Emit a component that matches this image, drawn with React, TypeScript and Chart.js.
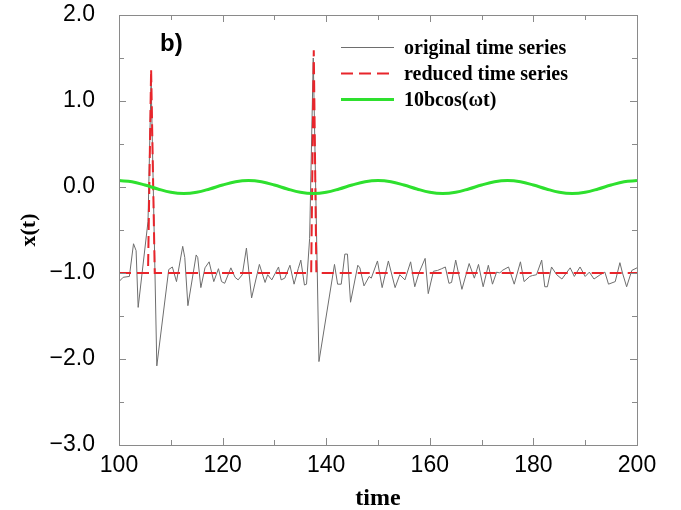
import React, { useEffect, useRef } from "react";
import { Chart, registerables } from "chart.js";

Chart.register(...registerables);

// ---- data ----
const origTime = [
  100.0, 100.8, 102.0, 102.8, 103.3, 103.7, 105.6, 106.2, 107.3, 109.6, 110.3, 111.1, 112.3, 112.7, 113.3,
  114.9, 115.2, 115.8, 116.6, 117.4, 118.3, 119.2, 119.8, 120.4, 121.6, 122.4, 123.0, 123.8, 124.6, 125.6,
  127.1, 128.2, 128.7, 129.5, 130.8, 131.3, 132.0, 133.0, 133.8, 134.6, 135.1, 135.8, 136.2, 136.8, 137.5,
  138.6, 141.6, 142.2, 142.9, 143.6, 144.1, 144.7, 146.1, 146.5, 147.3, 148.3, 148.7, 149.9, 150.8, 152.0,
  153.3, 154.2, 155.2, 156.3, 157.1, 157.9, 159.1, 159.7, 160.7, 161.5, 162.3, 163.0, 163.7, 164.2, 165.0,
  166.2, 167.6, 168.6, 169.4, 170.3, 171.3, 172.1, 172.9, 173.5, 174.0, 175.2, 176.3, 177.5, 178.2, 179.3,
  179.8, 180.6, 181.6, 182.2, 182.7, 183.5, 184.5, 185.5, 187.1, 187.9, 189.0, 190.0, 190.8, 191.7, 192.9,
  193.8, 194.5, 195.8, 196.7, 197.2, 198.0, 199.0, 200.0,
];
const origValue = [
  -1.1, -1.05, -1.04, -0.66, -0.74, -1.4, -0.4, 1.25, -2.08, -0.96, -0.93, -1.1, -0.69, -0.82, -1.38,
  -0.79, -0.82, -1.17, -0.94, -0.87, -1.1, -0.95, -1.1, -1.12, -0.94, -1.05, -1.08, -1.02, -0.71, -1.29,
  -0.9, -1.11, -1.02, -1.08, -0.93, -1.08, -1.06, -0.91, -1.13, -0.95, -0.85, -1.14, -1.13, -0.6, 1.5,
  -2.03, -0.9, -1.13, -1.13, -0.78, -0.78, -1.34, -0.91, -0.94, -1.15, -1.04, -1.06, -0.86, -1.17, -0.86,
  -1.17, -1.02, -1.08, -0.87, -1.16, -1.0, -0.83, -1.24, -0.98, -0.97, -0.95, -0.93, -1.12, -1.11, -0.85,
  -1.19, -0.89, -1.06, -0.9, -1.16, -0.91, -1.13, -0.99, -1.0, -0.97, -0.93, -1.13, -0.87, -1.1, -1.04,
  -1.03, -1.02, -0.85, -1.16, -1.16, -0.93, -1.02, -1.07, -0.94, -1.04, -0.93, -1.04, -0.99, -1.07, -1.02,
  -0.99, -1.13, -1.1, -0.88, -1.0, -1.16, -0.97, -0.94,
];

const reducedTime = [100, 105.6, 106.2, 106.9, 137.1, 137.6, 138.1, 200];
const reducedValue = [-1, -1, 1.37, -1, -1, 1.59, -1, -1];

const cosTime = [
  100, 102.5, 105, 107.5, 110, 112.5, 115, 117.5, 120, 122.5, 125, 127.5, 130, 132.5, 135, 137.5, 140,
  142.5, 145, 147.5, 150, 152.5, 155, 157.5, 160, 162.5, 165, 167.5, 170, 172.5, 175, 177.5, 180, 182.5,
  185, 187.5, 190, 192.5, 195, 197.5, 200,
];
const cosValue = [
  0.075, 0.061, 0.023, -0.023, -0.061, -0.075, -0.061, -0.023, 0.023, 0.061,
  0.075, 0.061, 0.023, -0.023, -0.061, -0.075, -0.061, -0.023, 0.023, 0.061,
  0.075, 0.061, 0.023, -0.023, -0.061, -0.075, -0.061, -0.023, 0.023, 0.061,
  0.075, 0.061, 0.023, -0.023, -0.061, -0.075, -0.061, -0.023, 0.023, 0.061,
  0.075,
];

const seriesLabels = ["original time series", "reduced time series", "10bcos(\u03c9t)"];
const xMajorTicks = [100, 120, 140, 160, 180, 200];
const xMinorTicks = [110, 130, 150, 170, 190];
const yMajorTicks = [2, 1, 0, -1, -2, -3];
const yMinorTicks = [1.5, 0.5, -0.5, -1.5, -2.5];
const panelLabel = "b)";
const xTitle = "time";
const yTitle = "x(t)";

const toPoints = (t: number[], v: number[]) => t.map((x, i) => ({ x, y: v[i] }));

const frameColor = "#8a8a8a";

const framePlugin = {
  id: "framePlugin",
  afterDatasetsDraw(chart: any) {
    const { ctx, chartArea } = chart;
    const { left, right, top, bottom } = chartArea;
    const xs = chart.scales.x;
    const ys = chart.scales.y;
    ctx.save();
    ctx.strokeStyle = frameColor;
    ctx.lineWidth = 1;
    ctx.strokeRect(Math.round(left) + 0.5, Math.round(top) + 0.5, Math.round(right - left), Math.round(bottom - top));
    const tick = (vals: number[], len: number, horiz: boolean) => {
      vals.forEach((v) => {
        ctx.beginPath();
        if (horiz) {
          const px = Math.round(xs.getPixelForValue(v)) + 0.5;
          ctx.moveTo(px, bottom);
          ctx.lineTo(px, bottom - len);
          ctx.moveTo(px, top);
          ctx.lineTo(px, top + len);
        } else {
          const py = Math.round(ys.getPixelForValue(v)) + 0.5;
          ctx.moveTo(left, py);
          ctx.lineTo(left + len, py);
          ctx.moveTo(right, py);
          ctx.lineTo(right - len, py);
        }
        ctx.stroke();
      });
    };
    tick(xMajorTicks, 7, true);
    tick(xMinorTicks, 5, true);
    tick(yMajorTicks, 7, false);
    tick(yMinorTicks, 5, false);

    // legend
    const rowY = [47.5, 73.5, 99.5];
    chart.data.datasets.forEach((ds: any, i: number) => {
      const y = rowY[i];
      ctx.beginPath();
      ctx.strokeStyle = ds.borderColor;
      ctx.lineWidth = ds.borderWidth;
      ctx.setLineDash(ds.borderDash || []);
      ctx.moveTo(341, y);
      ctx.lineTo(394, y);
      ctx.stroke();
      ctx.setLineDash([]);
      ctx.fillStyle = "#000";
      ctx.font = "bold 20px 'Liberation Serif'";
      ctx.textBaseline = "middle";
      ctx.textAlign = "left";
      ctx.fillText(ds.label, 404, y + 1);
    });

    ctx.fillStyle = "#000";
    ctx.font = "bold 24px 'Liberation Sans'";
    ctx.textBaseline = "alphabetic";
    ctx.fillText(panelLabel, 160, 51);
    ctx.restore();
  },
};

export default function App() {
  const ref = useRef<HTMLCanvasElement>(null);
  useEffect(() => {
    if (!ref.current) return;
    const chart = new Chart(ref.current, {
      type: "line",
      data: {
        datasets: [
          {
            label: seriesLabels[0],
            data: toPoints(origTime, origValue),
            borderColor: "#6e6e6e",
            borderWidth: 1,
            pointRadius: 0,
            tension: 0,
            order: 3,
          },
          {
            label: seriesLabels[1],
            data: toPoints(reducedTime, reducedValue),
            borderColor: "#e8252b",
            borderWidth: 2,
            borderDash: [12, 6],
            pointRadius: 0,
            tension: 0,
            order: 2,
          },
          {
            label: seriesLabels[2],
            data: toPoints(cosTime, cosValue),
            borderColor: "#2ee02e",
            borderWidth: 3,
            pointRadius: 0,
            tension: 0.4,
            order: 1,
          },
        ],
      },
      options: {
        responsive: false,
        animation: false,
        layout: { padding: { left: 0, top: 15, right: 44, bottom: 0 } },
        plugins: { legend: { display: false }, tooltip: { enabled: false } },
        scales: {
          x: {
            type: "linear",
            min: 100,
            max: 200,
            afterBuildTicks: (s: any) => {
              s.ticks = xMajorTicks.map((v) => ({ value: v }));
            },
            afterFit: (s: any) => {
              s.height = 65;
              s.paddingLeft = 0;
              s.paddingRight = 0;
            },
            grid: { display: false, drawTicks: false },
            border: { display: false },
            ticks: {
              color: "#000",
              padding: 7,
              maxRotation: 0,
              font: { family: "'Liberation Sans'", size: 23 },
              callback: (v: any) => String(v),
            },
            title: {
              display: true,
              text: xTitle,
              color: "#000",
              font: { family: "'Liberation Serif'", size: 24, weight: "bold" },
              padding: { top: 0, bottom: -3 },
            },
          },
          y: {
            type: "linear",
            min: -3,
            max: 2,
            afterBuildTicks: (s: any) => {
              s.ticks = yMajorTicks.map((v) => ({ value: v }));
            },
            afterFit: (s: any) => {
              s.width = 119;
              s.paddingTop = 0;
              s.paddingBottom = 0;
            },
            grid: { display: false, drawTicks: false },
            border: { display: false },
            ticks: {
              color: "#000",
              padding: 24,
              font: { family: "'Liberation Sans'", size: 23 },
              callback: (v: any) => Number(v).toFixed(1).replace("-", "\u2212"),
            },
            title: {
              display: true,
              text: yTitle,
              color: "#000",
              font: { family: "'Liberation Serif'", size: 22, weight: "bold" },
              padding: { top: 16, bottom: 0 },
            },
          },
        },
      },
      plugins: [framePlugin],
    });
    return () => chart.destroy();
  }, []);
  return (
    <canvas
      ref={ref}
      width={681}
      height={510}
      style={{ position: "absolute", left: 0, top: 0, display: "block" }}
    />
  );
}
